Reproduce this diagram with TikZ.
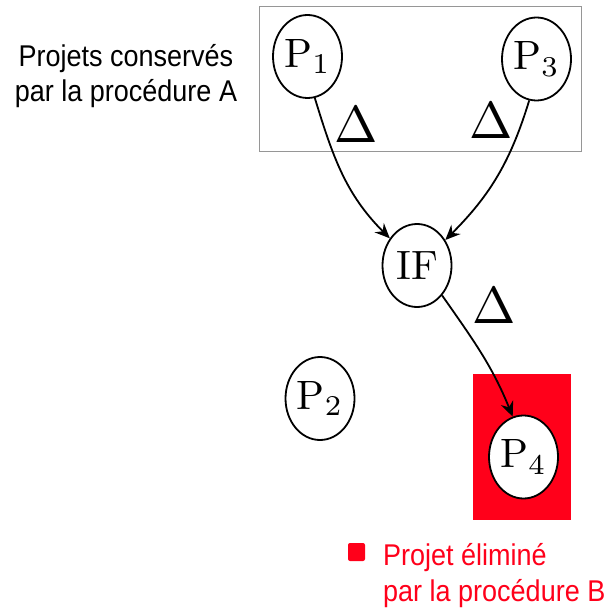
\documentclass[tikz,border=0pt]{standalone}
\usepackage{fontspec}
\usepackage{graphicx}
\usetikzlibrary{shapes.geometric,arrows.meta}
\newfontfamily\labfont[FakeStretch=0.9]{Liberation Sans}
\definecolor{elimred}{RGB}{255,0,26}
\definecolor{boxgray}{RGB}{150,150,150}
\newcommand{\bigtxt}[1]{\scalebox{4.1}{#1}}
\tikzset{
  proj/.style={ellipse,draw=black,line width=1.8pt,fill=white,minimum width=69pt,minimum height=83pt,inner sep=0pt},
  arr/.style={line width=1.8pt,-{Stealth[length=15pt,width=13pt,inset=5pt]}},
  dlt/.style={inner sep=0pt},
  lab/.style={inner sep=0pt,font=\labfont\fontsize{30}{36}\selectfont},
}
\begin{document}
\begin{tikzpicture}[x=1pt,y=-1pt]
\useasboundingbox (0,0) rectangle (608,609);
\node[draw=boxgray,line width=1pt,minimum width=322pt,minimum height=145pt,inner sep=0pt] (boxA) at (420,79.5) {};
\node[fill=elimred,minimum width=98pt,minimum height=146pt,inner sep=0pt] (boxB) at (522,447) {};
\node[proj] (p1) at (307.5,56.5) {\bigtxt{$\mathrm{P}_1$}};
\node[proj] (p3) at (536.5,59) {\bigtxt{$\mathrm{P}_3$}};
\node[proj] (if) at (417,265.5) {\bigtxt{IF}};
\node[proj] (p2) at (320,398.5) {\bigtxt{$\mathrm{P}_2$}};
\node[proj] (p4) at (523.5,457) {\bigtxt{$\mathrm{P}_4$}};
\draw[arr] (p1.-80) to[out=-73,in=135] (if.135);
\draw[arr] (p3.-100) to[out=-107,in=45] (if.42);
\draw[arr] (if.-50) to[out=-55,in=112] (p4.105);
\node[dlt] (d1) at (356,125) {\scalebox{5.2}{$\Delta$}};
\node[dlt] (d2) at (491,121) {\scalebox{5.2}{$\Delta$}};
\node[dlt] (d3) at (494,306) {\scalebox{5.2}{$\Delta$}};
\node[lab,anchor=base] (la1) at (126,67) {Projets conservés};
\node[lab,anchor=base] (la2) at (126,102) {par la procédure A};
\node[fill=elimred,rounded corners=2pt,minimum width=17pt,minimum height=18pt,inner sep=0pt] (lgsq) at (356.5,552) {};
\node[lab,anchor=base west,text=elimred] (lb1) at (383,565) {Projet éliminé};
\node[lab,anchor=base west,text=elimred] (lb2) at (383,601) {par la procédure B};
\end{tikzpicture}
\end{document}
